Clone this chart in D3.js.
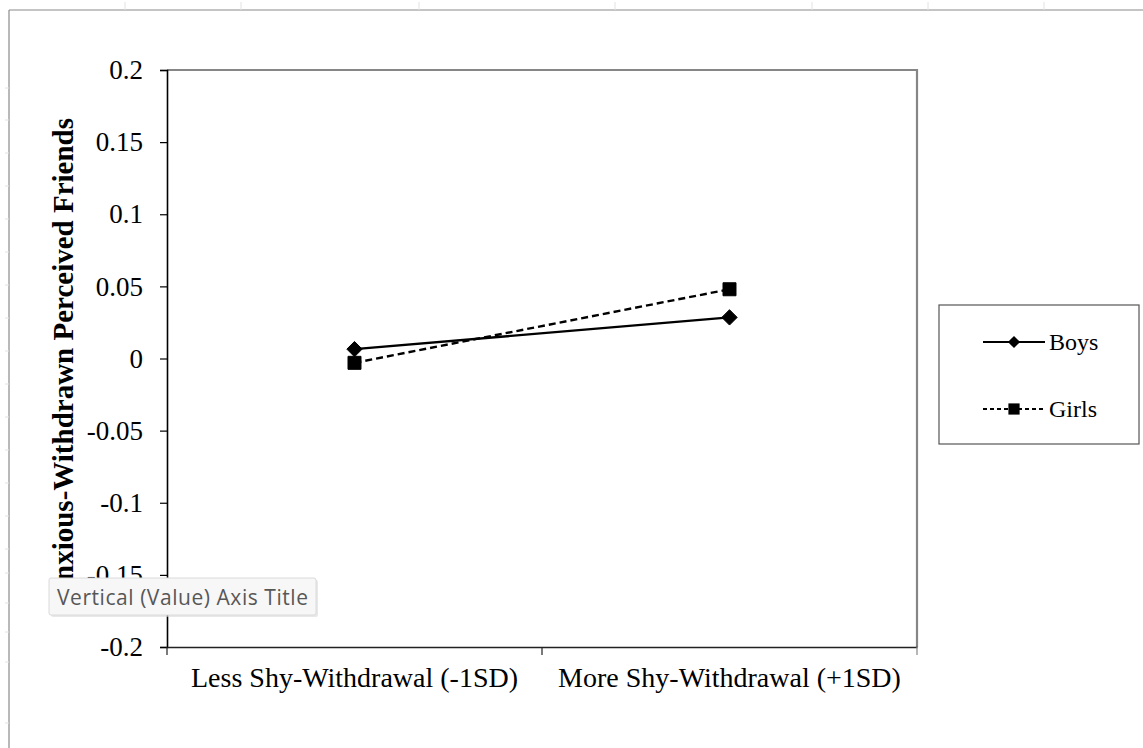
<!DOCTYPE html>
<html>
<head>
<meta charset="utf-8">
<script src="https://cdn.jsdelivr.net/npm/d3@7"></script>
<style>
  body { margin: 0; background: #fff; }
  svg { display: block; }
</style>
</head>
<body>
<div id="chart"></div>
<script>
// chart values
const categories = ["Less Shy-Withdrawal (-1SD)", "More Shy-Withdrawal (+1SD)"];
const boys = [0.0065, 0.0285];
const girls = [-0.003, 0.048];
const yTicks = [-0.2, -0.15, -0.1, -0.05, 0, 0.05, 0.1, 0.15, 0.2];
const yTickLabels = ["-0.2", "-0.15", "-0.1", "-0.05", "0", "0.05", "0.1", "0.15", "0.2"];
const seriesNames = ["Boys", "Girls"];
const yTitle = "Anxious-Withdrawn Perceived Friends";

class InteractionChart {
    constructor(parentContainer) {
        this.parentContainer = parentContainer;
        this.initVis();
    }

    initVis() {
        let vis = this;
        vis.W = 1143;
        vis.H = 748;
        vis.plot = {left: 167, right: 917, top: 70, bottom: 647};

        vis.svg = d3.select("#" + vis.parentContainer)
            .append("svg")
            .attr("width", vis.W)
            .attr("height", vis.H);

        vis.x = d3.scaleBand()
            .domain(categories)
            .range([vis.plot.left, vis.plot.right]);

        vis.y = d3.scaleLinear()
            .domain([-0.2, 0.2])
            .range([vis.plot.bottom, vis.plot.top]);

        vis.drawSheet();
        vis.updateVis();
    }

    // spreadsheet edges behind the chart
    drawSheet() {
        let vis = this;
        vis.svg.append("line")
            .attr("x1", 9).attr("x2", vis.W).attr("y1", 10).attr("y2", 10)
            .attr("stroke", "#8a8a8a").attr("stroke-width", 1.2);
        vis.svg.append("line")
            .attr("x1", 9).attr("x2", 9).attr("y1", 10).attr("y2", vis.H)
            .attr("stroke", "#8a8a8a").attr("stroke-width", 1.2);
        [125, 241, 419, 615, 812, 928, 1044].forEach(px => {
            vis.svg.append("line")
                .attr("x1", px).attr("x2", px).attr("y1", 2).attr("y2", 10)
                .attr("stroke", "#e2e2e2");
        });
        [88, 120, 153, 186, 219, 252, 285, 318, 351, 384, 417, 450, 483, 516, 549, 573, 603, 632, 662, 723].forEach(py => {
            vis.svg.append("line")
                .attr("x1", 5).attr("x2", 9).attr("y1", py).attr("y2", py)
                .attr("stroke", "#e2e2e2");
        });
    }

    updateVis() {
        let vis = this;
        const p = vis.plot;
        const serif = "'Liberation Serif', 'Times New Roman', serif";

        // frame: top and right grey
        vis.svg.append("path")
            .attr("d", `M${p.left},${p.top}H${p.right}V${p.bottom}`)
            .attr("fill", "none")
            .attr("stroke", "#868686")
            .attr("stroke-width", 2.2);

        // Y axis
        const yAxis = vis.svg.append("g")
            .attr("transform", `translate(${p.left},0)`)
            .call(d3.axisLeft(vis.y)
                .tickValues(yTicks)
                .tickSize(7)
                .tickPadding(17)
                .tickFormat((d, i) => yTickLabels[i]));
        yAxis.select(".domain").attr("stroke", "#000").attr("stroke-width", 1.6);
        yAxis.selectAll(".tick line").attr("stroke", "#000").attr("stroke-width", 1.2);
        yAxis.selectAll("text")
            .attr("fill", "#000")
            .style("font-family", serif)
            .style("font-size", "27px");

        // X axis
        const xAxis = vis.svg.append("g")
            .attr("transform", `translate(0,${p.bottom})`)
            .call(d3.axisBottom(vis.x).tickSize(0).tickPadding(20));
        xAxis.select(".domain").attr("stroke", "#222").attr("stroke-width", 1.6);
        xAxis.selectAll("text")
            .attr("fill", "#000")
            .style("font-family", serif)
            .style("font-size", "28px");
        // category boundary ticks
        const bounds = [p.left, p.left + vis.x.step(), p.right];
        xAxis.selectAll(".bound")
            .data(bounds)
            .enter().append("line")
            .attr("x1", d => d).attr("x2", d => d)
            .attr("y1", 0).attr("y2", 8)
            .attr("stroke", (d, i) => i === 2 ? "#868686" : "#222")
            .attr("stroke-width", 1.2);

        // Y title
        vis.svg.append("text")
            .attr("transform", `translate(73,118) rotate(-90)`)
            .attr("text-anchor", "end")
            .style("font-family", serif)
            .style("font-size", "29px")
            .style("font-weight", "bold")
            .text(yTitle);

        const cx = d => vis.x(d) + vis.x.bandwidth() / 2;
        const line = d3.line()
            .x(d => cx(d.cat))
            .y(d => vis.y(d.v));

        const boysData = categories.map((c, i) => ({cat: c, v: boys[i]}));
        const girlsData = categories.map((c, i) => ({cat: c, v: girls[i]}));

        vis.svg.append("path")
            .datum(girlsData)
            .attr("fill", "none")
            .attr("stroke", "#000")
            .attr("stroke-width", 2.4)
            .attr("stroke-dasharray", "7,4")
            .attr("d", line);

        vis.svg.append("path")
            .datum(boysData)
            .attr("fill", "none")
            .attr("stroke", "#000")
            .attr("stroke-width", 2.4)
            .attr("d", line);

        const diamond = d3.symbol().type(d3.symbolDiamond2).size(150);
        const square = d3.symbol().type(d3.symbolSquare2).size(215);

        vis.svg.selectAll(".boyPt")
            .data(boysData)
            .enter().append("path")
            .attr("transform", d => `translate(${cx(d.cat)},${vis.y(d.v)})`)
            .attr("d", diamond)
            .attr("fill", "#000").attr("stroke", "#000");

        vis.svg.selectAll(".girlPt")
            .data(girlsData)
            .enter().append("path")
            .attr("transform", d => `translate(${cx(d.cat)},${vis.y(d.v)})`)
            .attr("d", square)
            .attr("fill", "#000").attr("stroke", "#000");

        // Legend
        const lg = vis.svg.append("g").attr("transform", "translate(939,305)");
        lg.append("rect")
            .attr("width", 200).attr("height", 139)
            .attr("fill", "#fff")
            .attr("stroke", "#555").attr("stroke-width", 1.2);
        const rows = [
            {name: seriesNames[0], y: 37, dash: null},
            {name: seriesNames[1], y: 104, dash: "4,3"}
        ];
        rows.forEach(r => {
            lg.append("line")
                .attr("x1", 44).attr("x2", 106)
                .attr("y1", r.y).attr("y2", r.y)
                .attr("stroke", "#000").attr("stroke-width", 1.8)
                .attr("stroke-dasharray", r.dash);
            lg.append("path")
                .attr("transform", `translate(75,${r.y})`)
                .attr("d", r.name === "Boys" ? d3.symbol().type(d3.symbolDiamond2).size(95)() : d3.symbol().type(d3.symbolSquare2).size(160)())
                .attr("fill", "#000");
            lg.append("text")
                .attr("x", 110).attr("y", r.y + 8)
                .style("font-family", serif)
                .style("font-size", "24px")
                .text(r.name);
        });

        // hover tooltip from the spreadsheet
        const tip = vis.svg.append("g").attr("transform", "translate(49,578)");
        tip.append("rect")
            .attr("x", 2).attr("y", 2)
            .attr("width", 267).attr("height", 37)
            .attr("rx", 2)
            .attr("fill", "#d8d8d8").attr("opacity", 0.6);
        tip.append("rect")
            .attr("width", 267).attr("height", 37)
            .attr("rx", 2)
            .attr("fill", "#f7f7f7")
            .attr("stroke", "#dadada");
        tip.append("text")
            .attr("x", 8).attr("y", 27)
            .attr("fill", "#575757")
            .attr("textLength", 251)
            .style("font-family", "'Open Sans', 'Noto Sans', sans-serif")
            .style("font-size", "21px")
            .text("Vertical (Value) Axis Title");
    }
}

new InteractionChart("chart");
</script>
</body>
</html>
